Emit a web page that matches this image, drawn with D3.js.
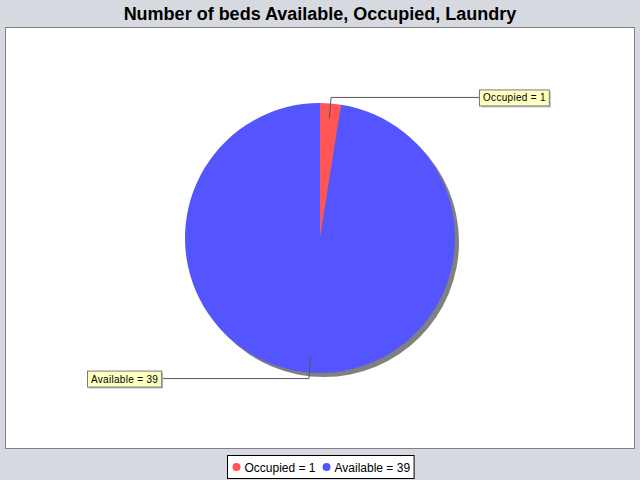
<!DOCTYPE html>
<html><head><meta charset="utf-8">
<script src="https://cdn.jsdelivr.net/npm/d3@7"></script>
<style>body{margin:0;background:#d6d9df;}svg{display:block;}</style>
</head><body>
<svg id="c" width="640" height="480"></svg>
<script>
const title = "Number of beds Available, Occupied, Laundry";
const categories = ["Occupied", "Available"];
const values = [1, 39];
const colors = ["#ff5555", "#5555ff"];

const W = 640, H = 480;
const svg = d3.select("#c");
svg.append("rect").attr("width", W).attr("height", H).attr("fill", "#d6d9df");

svg.append("text").attr("x", 320).attr("y", 20).attr("text-anchor", "middle")
  .attr("font-family", "Liberation Sans, Arial, sans-serif").attr("font-weight", "bold")
  .attr("font-size", 18).attr("fill", "#000").text(title);

// plot area
svg.append("rect").attr("x", 5.5).attr("y", 27.5).attr("width", 629).attr("height", 421)
  .attr("fill", "#fff").attr("stroke", "#808080");

const cx = 320, cy = 238, r = 135;
const data = categories.map((c, i) => ({cat: c, value: values[i], color: colors[i]}));
const pie = d3.pie().sort(null).value(d => d.value);
const arcs = pie(data);
const arc = d3.arc().innerRadius(0).outerRadius(r);

const g = svg.append("g").attr("transform", `translate(${cx},${cy})`);
// shadow
g.append("circle").attr("cx", 4).attr("cy", 4).attr("r", r).attr("fill", "#808080");
g.selectAll("path.s").data(arcs).join("path").attr("class", "s")
  .attr("d", arc).attr("fill", d => d.data.color);

// labels
const labelFont = "Liberation Sans, Arial, sans-serif";
const lblG = svg.append("g");
arcs.forEach(a => {
  const mid = (a.startAngle + a.endAngle) / 2;
  const sx = Math.sin(mid), sy = -Math.cos(mid);
  const p1 = [cx + sx * 120, cy + sy * 120];
  const p2 = [cx + sx * 141, cy + sy * 141];
  const right = sx >= 0;
  const text = `${a.data.cat} = ${a.data.value}`;
  const t = lblG.append("text").attr("font-family", labelFont).attr("font-size", 10)
    .attr("letter-spacing", 0.3).text(text).attr("y", p2[1] + 4);
  const tw = t.node().getComputedTextLength();
  const bw = tw + 7, bh = 16;
  const bx = right ? 479 : 87;
  const lineEnd = right ? bx : bx + bw;
  lblG.insert("polyline", "text").attr("points", `${p1[0]},${p1[1]} ${p2[0]},${p2[1]} ${lineEnd},${p2[1]}`)
    .attr("fill", "none").attr("stroke", "#555").attr("stroke-width", 1);
  const by = p2[1] - bh / 2;
  lblG.insert("rect", "text").attr("x", bx + 2).attr("y", by + 2).attr("width", bw).attr("height", bh).attr("fill", "#c0c0c0");
  lblG.insert("rect", "text").attr("x", bx + 0.5).attr("y", by + 0.5).attr("width", bw).attr("height", bh)
    .attr("fill", "#ffffc0").attr("stroke", "#7a7a7a");
  t.attr("x", bx + 4);
});

// legend
const lg = svg.append("g");
const lx = 227.5, ly = 455.5;
let x = lx + 5;
data.forEach(d => {
  lg.append("circle").attr("cx", x + 4).attr("cy", ly + 11.5).attr("r", 4).attr("fill", d.color);
  const t = lg.append("text").attr("x", x + 12).attr("y", ly + 16).attr("font-family", labelFont)
    .attr("font-size", 12).text(`${d.cat} = ${d.value}`);
  x += 12 + t.node().getComputedTextLength() + 7;
});
lg.insert("rect", "circle").attr("x", lx).attr("y", ly).attr("width", x - lx - 3).attr("height", 23)
  .attr("fill", "#fff").attr("stroke", "#000");
</script>
</body></html>
